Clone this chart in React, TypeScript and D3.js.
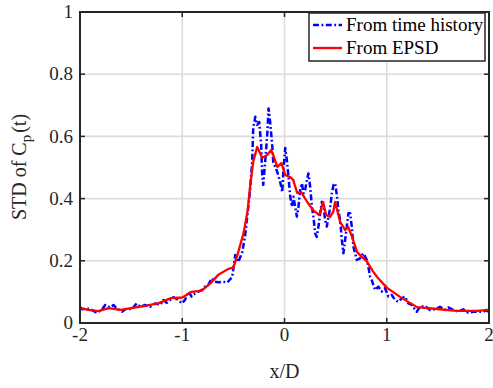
import React from "react";
import * as d3 from "d3";

// x/D positions and STD values
const blueX = [-2.0, -1.98, -1.93, -1.885, -1.836, -1.787, -1.754, -1.705, -1.673, -1.64, -1.59, -1.543, -1.494, -1.445, -1.412, -1.363, -1.314, -1.266, -1.217, -1.185, -1.152, -1.119, -1.087, -1.038, -1.006, -0.973, -0.94, -0.908, -0.875, -0.843, -0.81, -0.777, -0.745, -0.713, -0.68, -0.647, -0.6, -0.56, -0.511, -0.482, -0.452, -0.413, -0.384, -0.355, -0.335, -0.316, -0.306, -0.286, -0.267, -0.247, -0.228, -0.218, -0.208, -0.189, -0.169, -0.156, -0.14, -0.12, -0.11, -0.071, -0.042, -0.022, -0.012, 0.007, 0.023, 0.039, 0.056, 0.072, 0.088, 0.104, 0.121, 0.137, 0.153, 0.17, 0.186, 0.202, 0.219, 0.234, 0.251, 0.268, 0.283, 0.3, 0.316, 0.332, 0.349, 0.365, 0.381, 0.397, 0.414, 0.43, 0.446, 0.463, 0.479, 0.495, 0.512, 0.527, 0.544, 0.561, 0.576, 0.593, 0.609, 0.625, 0.642, 0.658, 0.674, 0.707, 0.739, 0.771, 0.805, 0.82, 0.837, 0.853, 0.886, 0.918, 0.951, 0.983, 1.016, 1.049, 1.081, 1.113, 1.146, 1.179, 1.211, 1.244, 1.293, 1.325, 1.374, 1.423, 1.472, 1.521, 1.569, 1.602, 1.65, 1.699, 1.748, 1.797, 1.846, 1.894, 1.943, 1.976, 2.0];
const blueY = [0.052, 0.044, 0.047, 0.042, 0.033, 0.042, 0.058, 0.05, 0.058, 0.047, 0.036, 0.047, 0.044, 0.063, 0.052, 0.058, 0.052, 0.063, 0.058, 0.074, 0.065, 0.074, 0.083, 0.074, 0.063, 0.074, 0.101, 0.085, 0.095, 0.101, 0.106, 0.117, 0.122, 0.144, 0.133, 0.131, 0.133, 0.13, 0.148, 0.219, 0.196, 0.228, 0.283, 0.37, 0.434, 0.518, 0.627, 0.663, 0.637, 0.646, 0.572, 0.476, 0.444, 0.518, 0.605, 0.69, 0.646, 0.572, 0.518, 0.486, 0.453, 0.421, 0.486, 0.563, 0.524, 0.47, 0.406, 0.374, 0.406, 0.374, 0.342, 0.374, 0.428, 0.449, 0.417, 0.428, 0.46, 0.481, 0.438, 0.374, 0.342, 0.288, 0.277, 0.31, 0.353, 0.39, 0.374, 0.331, 0.31, 0.342, 0.369, 0.417, 0.444, 0.449, 0.412, 0.363, 0.331, 0.267, 0.224, 0.267, 0.31, 0.353, 0.353, 0.31, 0.245, 0.203, 0.208, 0.224, 0.203, 0.181, 0.149, 0.138, 0.106, 0.117, 0.101, 0.112, 0.085, 0.09, 0.074, 0.068, 0.079, 0.085, 0.063, 0.058, 0.036, 0.052, 0.055, 0.042, 0.044, 0.052, 0.042, 0.05, 0.042, 0.036, 0.044, 0.033, 0.036, 0.036, 0.036, 0.042, 0.031];

const redX = [-2.0, -1.92, -1.82, -1.72, -1.6, -1.5, -1.36, -1.23, -1.11, -1.0, -0.91, -0.81, -0.72, -0.65, -0.55, -0.5, -0.46, -0.4, -0.36, -0.335, -0.306, -0.267, -0.218, -0.17, -0.13, -0.11, -0.07, -0.03, 0.007, 0.056, 0.085, 0.124, 0.163, 0.222, 0.28, 0.339, 0.378, 0.407, 0.446, 0.476, 0.495, 0.544, 0.593, 0.622, 0.661, 0.71, 0.76, 0.81, 0.857, 0.905, 1.003, 1.13, 1.296, 1.49, 1.687, 1.882, 2.0];
const redY = [0.048, 0.042, 0.038, 0.048, 0.042, 0.048, 0.055, 0.064, 0.08, 0.082, 0.1, 0.104, 0.129, 0.154, 0.174, 0.178, 0.219, 0.289, 0.363, 0.444, 0.518, 0.566, 0.531, 0.54, 0.556, 0.54, 0.502, 0.514, 0.476, 0.469, 0.46, 0.418, 0.421, 0.389, 0.363, 0.347, 0.389, 0.347, 0.341, 0.357, 0.389, 0.325, 0.299, 0.309, 0.277, 0.228, 0.212, 0.196, 0.17, 0.148, 0.113, 0.084, 0.051, 0.045, 0.039, 0.039, 0.042];

const xTicks = [-2, -1, 0, 1, 2];
const xTickLabels = ["-2", "-1", "0", "1", "2"];
const yTicks = [0, 0.2, 0.4, 0.6, 0.8, 1];
const yTickLabels = ["0", "0.2", "0.4", "0.6", "0.8", "1"];
const legendLabels = ["From time history", "From EPSD"];

const W = 493, H = 388;
const L = 80, R = 489, T = 12, B = 323;
const FONT = "'Liberation Serif', 'Times New Roman', serif";
const AX = "#262626";
const DASH = "6,2.5,1.8,2.5";

export default function App() {
  const x = d3.scaleLinear().domain([-2, 2]).range([L, R]);
  const y = d3.scaleLinear().domain([0, 1]).range([B, T]);
  const line = d3.line<[number, number]>().x(d => x(d[0])).y(d => y(d[1]));
  const blue = blueX.map((v, i) => [v, blueY[i]] as [number, number]);
  const red = redX.map((v, i) => [v, redY[i]] as [number, number]);

  return (
    <div style={{ position: "absolute", left: 0, top: 0 }}>
      <svg width={W} height={H} style={{ display: "block", background: "#fff" }} fontFamily={FONT}>
        <rect x={0} y={0} width={W} height={H} fill="#fff" />
        {/* grid */}
        {xTicks.slice(1, -1).map(t => (
          <line key={"gx" + t} x1={x(t)} x2={x(t)} y1={T} y2={B} stroke="#dcdcdc" strokeWidth={1.6} />
        ))}
        {yTicks.slice(1, -1).map(t => (
          <line key={"gy" + t} x1={L} x2={R} y1={y(t)} y2={y(t)} stroke="#dcdcdc" strokeWidth={1.6} />
        ))}
        {/* curves */}
        <defs>
          <clipPath id="clip"><rect x={L} y={T} width={R - L} height={B - T} /></clipPath>
        </defs>
        <g clipPath="url(#clip)">
          <path d={line(blue) || ""} fill="none" stroke="#0000ff" strokeWidth={2.5} strokeDasharray={DASH} strokeLinejoin="round" />
          <path d={line(red) || ""} fill="none" stroke="#ff0000" strokeWidth={2.3} strokeLinejoin="round" />
        </g>
        {/* ticks */}
        {xTicks.map(t => (
          <g key={"tx" + t}>
            <line x1={x(t)} x2={x(t)} y1={B} y2={B - 5} stroke={AX} strokeWidth={1.5} />
            <line x1={x(t)} x2={x(t)} y1={T} y2={T + 5} stroke={AX} strokeWidth={1.5} />
          </g>
        ))}
        {yTicks.map(t => (
          <g key={"ty" + t}>
            <line x1={L} x2={L + 5} y1={y(t)} y2={y(t)} stroke={AX} strokeWidth={1.5} />
            <line x1={R} x2={R - 5} y1={y(t)} y2={y(t)} stroke={AX} strokeWidth={1.5} />
          </g>
        ))}
        {/* box */}
        <rect x={L} y={T} width={R - L} height={B - T} fill="none" stroke={AX} strokeWidth={2} />
        {/* tick labels */}
        {xTicks.map((t, i) => (
          <text key={"lx" + t} x={x(t)} y={341} textAnchor="middle" fontSize={19} fill={AX}>{xTickLabels[i]}</text>
        ))}
        {yTicks.map((t, i) => (
          <text key={"ly" + t} x={73} y={y(t)} dy="0.33em" textAnchor="end" fontSize={19} fill={AX}>{yTickLabels[i]}</text>
        ))}
        {/* axis labels */}
        <text x={(L + R) / 2} y={378} textAnchor="middle" fontSize={20} fill={AX}>x/D</text>
        <text transform="translate(26,167) rotate(-90)" textAnchor="middle" fontSize={20} fill={AX}>
          STD of C<tspan dy={5} fontSize={15}>p</tspan><tspan dy={-5} dx={2}>(t)</tspan>
        </text>
        {/* legend */}
        <rect x={309} y={13} width={176} height={48} fill="#fff" stroke={AX} strokeWidth={1.5} />
        <line x1={313} x2={342} y1={25} y2={25} stroke="#0000ff" strokeWidth={2.5} strokeDasharray={DASH} />
        <line x1={313} x2={342} y1={48} y2={48} stroke="#ff0000" strokeWidth={2.3} />
        <text x={346} y={31} fontSize={19} fill="#000">{legendLabels[0]}</text>
        <text x={346} y={54} fontSize={19} fill="#000">{legendLabels[1]}</text>
      </svg>
    </div>
  );
}
